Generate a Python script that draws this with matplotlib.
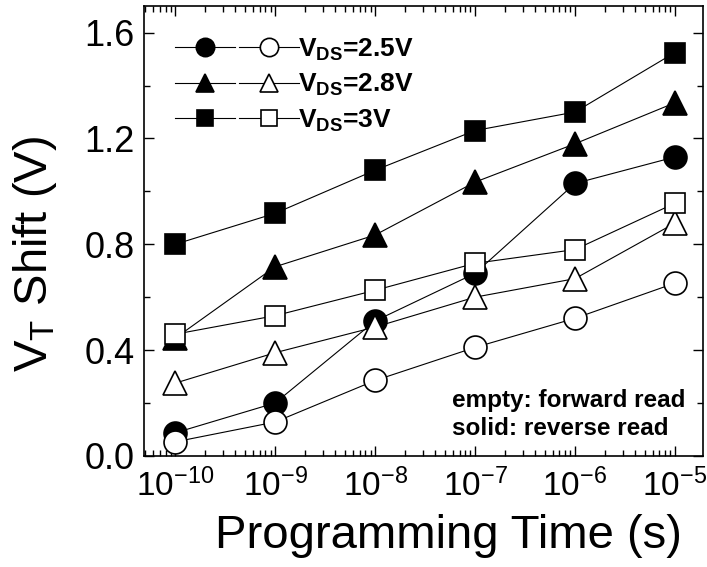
import matplotlib
matplotlib.use("Agg")
import matplotlib.pyplot as plt
from matplotlib.legend_handler import HandlerTuple
from matplotlib.lines import Line2D
from matplotlib.ticker import FixedLocator, LogLocator, MultipleLocator

plt.rcParams["font.family"] = ["Liberation Sans", "DejaVu Sans"]
plt.rcParams["mathtext.fontset"] = "custom"
plt.rcParams["mathtext.rm"] = "Liberation Sans"
plt.rcParams["mathtext.it"] = "Liberation Sans:italic"
plt.rcParams["mathtext.bf"] = "Liberation Sans:bold"

# programming time (s)
times = [1e-10, 1e-9, 1e-8, 1e-7, 1e-6, 1e-5]
time_labels = [r"10$^{-10}$", r"10$^{-9}$", r"10$^{-8}$", r"10$^{-7}$", r"10$^{-6}$", r"10$^{-5}$"]

# VT shift (V): reverse read (solid) and forward read (empty)
rev_25 = [0.087, 0.20, 0.51, 0.69, 1.03, 1.13]
fwd_25 = [0.053, 0.128, 0.285, 0.41, 0.52, 0.653]
rev_28 = [0.445, 0.715, 0.835, 1.035, 1.18, 1.335]
fwd_28 = [0.275, 0.39, 0.487, 0.60, 0.67, 0.88]
rev_30 = [0.80, 0.917, 1.08, 1.23, 1.30, 1.525]
fwd_30 = [0.46, 0.53, 0.626, 0.728, 0.78, 0.955]

labels = [r"$\mathbf{V_{DS}}$=2.5V", r"$\mathbf{V_{DS}}$=2.8V", r"$\mathbf{V_{DS}}$=3V"]

fig = plt.figure(figsize=(7.07, 5.67), dpi=100)
ax = fig.add_axes([0.204, 0.196, 0.790, 0.793])

series = [
    (rev_25, fwd_25, "o", 16.5),
    (rev_28, fwd_28, "^", 17),
    (rev_30, fwd_30, "s", 14.5),
]
lw = 0.8
mew = 1.2

for rev, _, mk, ms in series:
    ax.plot(times, rev, color="black", lw=lw, marker=mk, ms=ms,
            mfc="black", mec="black", mew=mew, zorder=2)
for _, fwd, mk, ms in series:
    ax.plot(times, fwd, color="black", lw=lw, marker=mk, ms=ms,
            mfc="white", mec="black", mew=mew, zorder=3)

ax.set_xscale("log")
ax.set_xlim(4.9e-11, 1.9e-5)
ax.set_ylim(0, 1.70)
ax.yaxis.set_major_locator(MultipleLocator(0.4))
ax.yaxis.set_minor_locator(MultipleLocator(0.2))
ax.xaxis.set_major_locator(FixedLocator(times))
ax.set_xticklabels(time_labels)
ax.xaxis.set_minor_locator(LogLocator(base=10, subs=range(2, 10), numticks=20))
ax.xaxis.set_minor_formatter(plt.NullFormatter())
ax.yaxis.set_major_formatter(plt.FuncFormatter(lambda v, p: f"{v:.1f}"))

ax.tick_params(which="both", direction="in", top=True, right=True, width=1.0)
ax.tick_params(which="major", length=7, pad=7)
ax.tick_params(which="minor", length=4)
ax.tick_params(axis="y", labelsize=26)
ax.tick_params(axis="x", labelsize=24, pad=9)
for sp in ax.spines.values():
    sp.set_linewidth(1.2)

ax.set_xlabel("Programming Time (s)", fontsize=34, labelpad=8)
ax.xaxis.label.set_x(0.544)
ax.set_ylabel(r"V$_\mathregular{T}$ Shift (V)", fontsize=34, labelpad=18)
ax.yaxis.label.set_y(0.45)

# legend: solid and empty marker side by side, then label
handles = []
for _, _, mk, ms in series:
    solid = Line2D([], [], color="black", lw=lw, marker=mk, ms=ms * 0.8,
                   mfc="black", mec="black", mew=mew)
    empty = Line2D([], [], color="black", lw=lw, marker=mk, ms=ms * 0.8,
                   mfc="white", mec="black", mew=mew)
    handles.append((solid, empty))
ax.legend(handles, labels, handler_map={tuple: HandlerTuple(ndivide=None, pad=0.15)},
          loc="upper left", bbox_to_anchor=(0.026, 0.968), frameon=False,
          handlelength=4.7, handletextpad=-0.03, labelspacing=0.35,
          borderaxespad=0.2, prop={"weight": "bold", "size": 19})

ax.text(0.551, 0.035, "empty: forward read\nsolid: reverse read",
        transform=ax.transAxes, ha="left", va="bottom", fontsize=17.5,
        fontweight="bold", linespacing=1.3)

fig.savefig("out.png", dpi=100)
